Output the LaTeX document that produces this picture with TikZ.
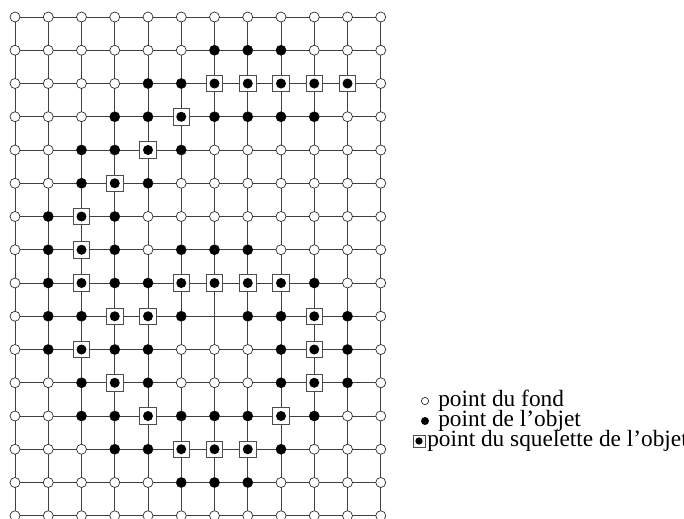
\documentclass[tikz,border=0pt]{standalone}
\usepackage{fontspec}
\setmainfont{Liberation Serif}
\usetikzlibrary{positioning}

\begin{document}
\begin{tikzpicture}[x=0.75pt,y=-0.75pt,
  grille/.style={draw=black!75,line width=0.6pt},
  fond/.style={circle,draw=black!85,fill=white,line width=0.5pt,minimum size=7.5pt,inner sep=0pt},
  objet/.style={circle,fill=black,minimum size=7.5pt,inner sep=0pt},
  squel/.style={draw=black!70,line width=0.6pt,fill=white,minimum size=12.5pt,inner sep=0pt},
  legende/.style={font=\fontsize{17.5}{20}\selectfont,inner sep=0pt,anchor=base west}
]
\useasboundingbox (0,0) rectangle (684,518);
% points de la grille
\foreach \r in {0,...,15}
  \foreach \c in {0,...,11}
    \coordinate (g-\r-\c) at (15+\c*33.25,17+\r*33.25);
% lignes
\foreach \r in {0,...,15} \draw[grille] (g-\r-0) -- (g-\r-11);
\foreach \c in {0,...,11} \draw[grille] (g-0-\c) -- (g-15-\c);
% points du fond (sauf un point vide)
\foreach \r in {0,...,15}
  \foreach \c in {0,...,11}{
    \pgfmathtruncatemacro\vide{(\r==9)&&(\c==6)}
    \ifnum\vide=0 \node[fond] (f-\r-\c) at (g-\r-\c) {}; \fi
  }
% points de l'objet
\foreach \r/\liste in {1/{6,7,8},2/{4,5},3/{3,4,6,7,8,9},4/{2,3,5},5/{2,4},6/{1,3},
    7/{1,3,5,6,7},8/{1,3,4,9},9/{1,2,5,7,8,10},10/{1,3,4,8,10},11/{2,4,8,10},
    12/{2,3,5,6,7,9},13/{3,4,8},14/{5,6,7}}
  \foreach \c in \liste
    \node[objet] (o-\r-\c) at (g-\r-\c) {};
% squelette
\foreach \r/\liste in {2/{6,7,8,9,10},3/{5},4/{4},5/{3},6/{2},7/{2},8/{2,5,6,7,8},
    9/{3,4,9},10/{2,9},11/{3,9},12/{4,8},13/{5,6,7}}
  \foreach \c in \liste{
    \node[squel] (s-\r-\c) at (g-\r-\c) {};
    \node[objet] at (s-\r-\c) {};
  }
% legende
\node[fond,minimum size=5.5pt] (lf) at (425,401) {};
\node[objet,minimum size=6pt] (lo) at (425,421) {};
\node[squel,minimum size=9pt] (ls) at (419,441) {};
\node[objet,minimum size=5.5pt] at (ls) {};
\node[legende] (tf) at (438,406) {point du fond};
\node[legende] (to) at (438,426) {point de l’objet};
\node[legende] (ts) at (427,446) {point du squelette de l’objet};
\end{tikzpicture}
\end{document}
